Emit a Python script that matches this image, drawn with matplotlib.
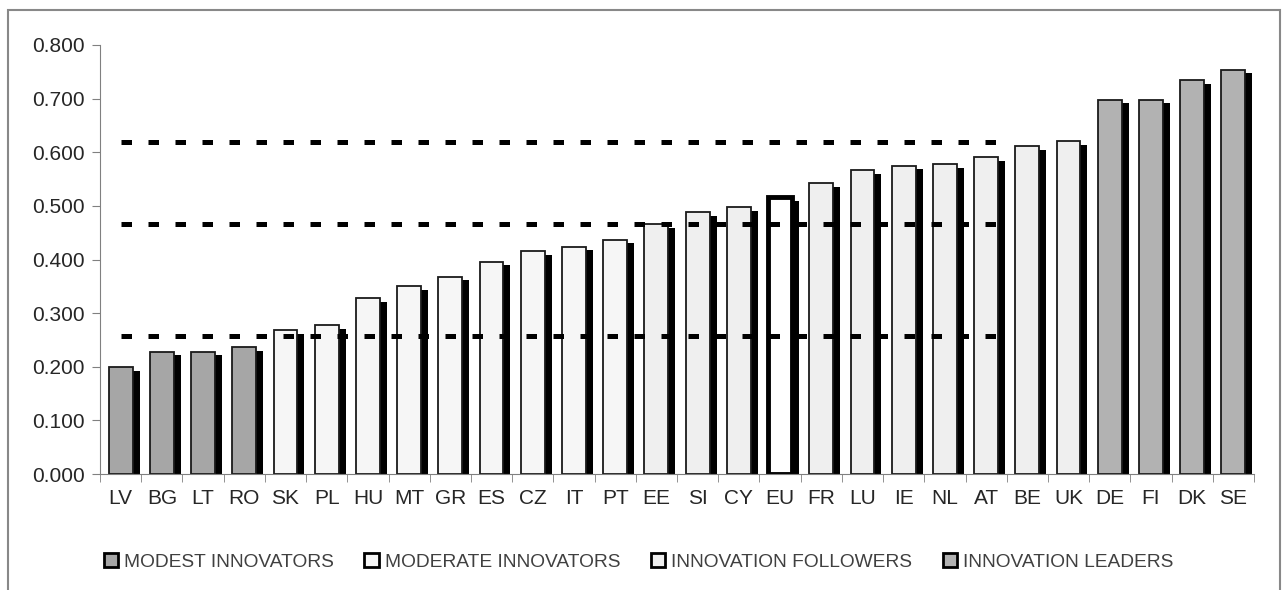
import numpy as np
import matplotlib
matplotlib.use('Agg')
import matplotlib.pyplot as plt
from matplotlib.patches import Patch, Rectangle

plt.rcParams['font.family'] = ['Liberation Sans', 'DejaVu Sans']

# Country codes and summary innovation index values
countries = ['LV', 'BG', 'LT', 'RO', 'SK', 'PL', 'HU', 'MT', 'GR', 'ES', 'CZ', 'IT', 'PT', 'EE',
             'SI', 'CY', 'EU', 'FR', 'LU', 'IE', 'NL', 'AT', 'BE', 'UK', 'DE', 'FI', 'DK', 'SE']
values = [0.200, 0.228, 0.228, 0.237, 0.269, 0.278, 0.328, 0.351, 0.368, 0.396, 0.416, 0.424, 0.437, 0.466,
          0.489, 0.498, 0.516, 0.543, 0.567, 0.575, 0.578, 0.591, 0.612, 0.621, 0.698, 0.698, 0.735, 0.754]
groups = ['modest'] * 4 + ['moderate'] * 9 + ['followers'] * 3 + ['eu'] + ['followers'] * 7 + ['leaders'] * 4

# group thresholds (dashed lines)
thresholds = [0.257, 0.466, 0.619]

group_names = ['MODEST INNOVATORS', 'MODERATE INNOVATORS', 'INNOVATION FOLLOWERS', 'INNOVATION LEADERS']
group_keys = ['modest', 'moderate', 'followers', 'leaders']
group_colors = {'modest': '#a6a6a6', 'moderate': '#f6f6f6', 'followers': '#efefef',
                'leaders': '#b2b2b2', 'eu': '#ffffff'}

fig = plt.figure(figsize=(12.82, 5.90), dpi=100)
ax = fig.add_axes([100 / 1282, 116 / 590, 1154 / 1282, 429 / 590])

x = np.arange(len(countries))
width = 0.58
dx = 0.17
dy = 0.007

# shadows
ax.bar(x + dx, np.array(values) - dy, width=width, color='black', zorder=1)
# bars
for xi, v, g in zip(x, values, groups):
    if g == 'eu':
        ax.bar(xi, v, width=width, color='white', edgecolor='black', linewidth=3.5, zorder=2)
    else:
        ax.bar(xi, v, width=width, color=group_colors[g], edgecolor='#1a1a1a', linewidth=1.3, zorder=2)

# threshold lines
for t in thresholds:
    ax.plot([0, 21.58], [t, t], color='black', linewidth=3.6, linestyle=(0, (2.1, 3.3)),
            dash_capstyle='butt', zorder=3)

ax.set_xlim(-0.5, len(countries) - 0.5)
ax.set_ylim(0, 0.8)
ax.set_yticks(np.arange(0, 0.81, 0.1))
ax.set_yticklabels(['%.3f' % v for v in np.arange(0, 0.81, 0.1)])
ax.set_xticks(x)
ax.set_xticklabels(countries)
ax.set_xticks(np.arange(-0.5, len(countries), 1), minor=True)
ax.tick_params(axis='x', which='major', length=0, pad=11, labelsize=15, labelcolor='#262626')
ax.tick_params(axis='x', which='minor', length=6, color='#808080', direction='out')
ax.tick_params(axis='y', length=6, color='#808080', labelsize=15, labelcolor='#262626', pad=5)

for s in ['top', 'right']:
    ax.spines[s].set_visible(False)
for s in ['left', 'bottom']:
    ax.spines[s].set_color('#808080')

# legend
handles = [Patch(facecolor=group_colors[k], edgecolor='black', linewidth=2) for k in group_keys]
fig.legend(handles, group_names, loc='center', bbox_to_anchor=(0.498, 0.047), ncol=4, frameon=False,
           handlelength=0.75, handleheight=0.75, handletextpad=0.3, columnspacing=1.6,
           prop={'size': 13.8}, labelcolor='#404040')

# outer frame
fig.patches.append(Rectangle((8 / 1282, -0.1), 1272 / 1282, 1.1 - 10 / 590, transform=fig.transFigure,
                             fill=False, edgecolor='#888888', linewidth=1.5))

fig.savefig('out.png', dpi=100)
